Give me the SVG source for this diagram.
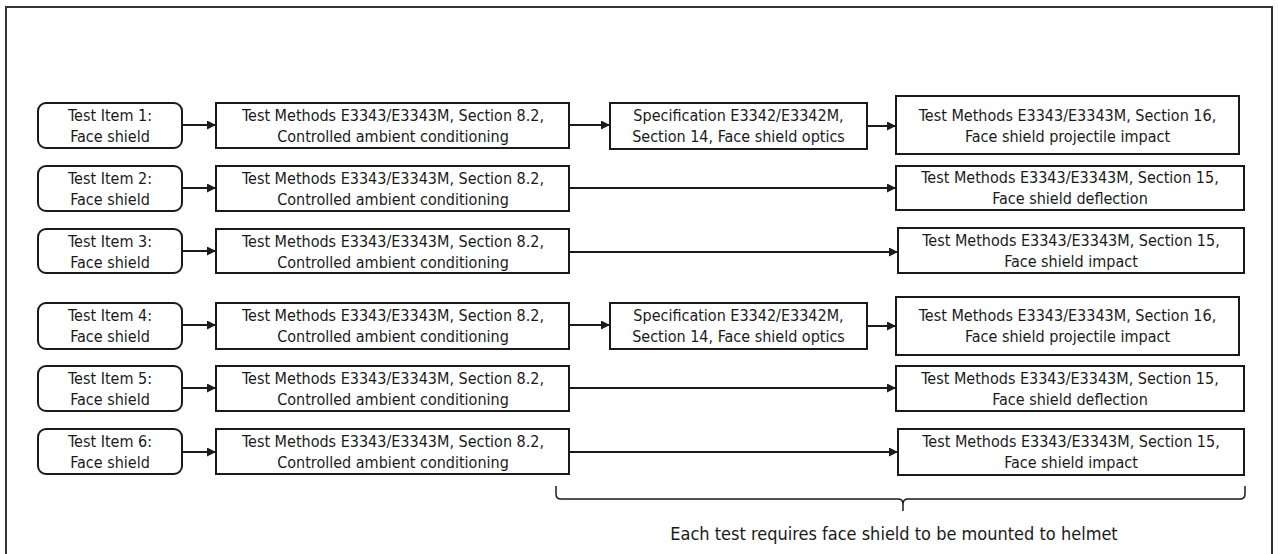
<svg xmlns="http://www.w3.org/2000/svg" width="1278" height="554" viewBox="0 0 1278 554">
<defs>
<style>
.box{fill:#fff;stroke:#1a1a1a;stroke-width:2}
.t{font-family:"DejaVu Sans Condensed","DejaVu Sans",sans-serif;font-size:16px;fill:#1a1a1a;text-anchor:middle}
.c{stroke:#1a1a1a;stroke-width:2;fill:none}
</style>
<marker id="ah" viewBox="0 0 10 10" refX="10" refY="5" markerWidth="10" markerHeight="9" markerUnits="userSpaceOnUse" orient="auto">
<path d="M0,0 L10,5 L0,10 Z" fill="#1a1a1a"/>
</marker>
</defs>
<rect x="0" y="0" width="1278" height="554" fill="#fff"/>
<path d="M6,560 V7 H1272 V560" fill="none" stroke="#333" stroke-width="2"/>

<g id="connectors">
<line class="c" x1="182" y1="125" x2="216" y2="125" marker-end="url(#ah)"/>
<line class="c" x1="569" y1="125" x2="610" y2="125" marker-end="url(#ah)"/>
<line class="c" x1="867" y1="126" x2="896" y2="126" marker-end="url(#ah)"/>
<line class="c" x1="182" y1="188" x2="216" y2="188" marker-end="url(#ah)"/>
<line class="c" x1="569" y1="188" x2="896" y2="188" marker-end="url(#ah)"/>
<line class="c" x1="182" y1="251" x2="216" y2="251" marker-end="url(#ah)"/>
<line class="c" x1="569" y1="252" x2="898" y2="252" marker-end="url(#ah)"/>
<line class="c" x1="182" y1="325" x2="216" y2="325" marker-end="url(#ah)"/>
<line class="c" x1="569" y1="325" x2="610" y2="325" marker-end="url(#ah)"/>
<line class="c" x1="867" y1="326" x2="896" y2="326" marker-end="url(#ah)"/>
<line class="c" x1="182" y1="388" x2="216" y2="388" marker-end="url(#ah)"/>
<line class="c" x1="569" y1="388" x2="896" y2="388" marker-end="url(#ah)"/>
<line class="c" x1="182" y1="452" x2="216" y2="452" marker-end="url(#ah)"/>
<line class="c" x1="569" y1="452" x2="898" y2="452" marker-end="url(#ah)"/>
</g>

<g id="item1"><rect class="box" x="38" y="103" width="144" height="45" rx="8"/><text class="t" x="110" y="121">Test Item 1:</text><text class="t" x="110" y="142">Face shield</text></g>
<g id="cond1"><rect class="box" x="216" y="103" width="353" height="45"/><text class="t" x="393" y="121">Test Methods E3343/E3343M, Section 8.2,</text><text class="t" x="393" y="142">Controlled ambient conditioning</text></g>
<g id="optics1"><rect class="box" x="610" y="103" width="257" height="46"/><text class="t" x="738.5" y="121">Specification E3342/E3342M,</text><text class="t" x="738.5" y="142">Section 14, Face shield optics</text></g>
<g id="proj1"><rect class="box" x="896" y="96" width="343" height="58"/><text class="t" x="1067.5" y="121">Test Methods E3343/E3343M, Section 16,</text><text class="t" x="1067.5" y="142">Face shield projectile impact</text></g>

<g id="item2"><rect class="box" x="38" y="166" width="144" height="45" rx="8"/><text class="t" x="110" y="184">Test Item 2:</text><text class="t" x="110" y="205">Face shield</text></g>
<g id="cond2"><rect class="box" x="216" y="166" width="353" height="45"/><text class="t" x="393" y="184">Test Methods E3343/E3343M, Section 8.2,</text><text class="t" x="393" y="205">Controlled ambient conditioning</text></g>
<g id="defl2"><rect class="box" x="896" y="166" width="348" height="44"/><text class="t" x="1070" y="183">Test Methods E3343/E3343M, Section 15,</text><text class="t" x="1070" y="204">Face shield deflection</text></g>

<g id="item3"><rect class="box" x="38" y="229" width="144" height="44" rx="8"/><text class="t" x="110" y="247">Test Item 3:</text><text class="t" x="110" y="268">Face shield</text></g>
<g id="cond3"><rect class="box" x="216" y="229" width="353" height="44"/><text class="t" x="393" y="247">Test Methods E3343/E3343M, Section 8.2,</text><text class="t" x="393" y="268">Controlled ambient conditioning</text></g>
<g id="impact3"><rect class="box" x="898" y="228" width="346" height="45"/><text class="t" x="1071" y="246">Test Methods E3343/E3343M, Section 15,</text><text class="t" x="1071" y="267">Face shield impact</text></g>

<g id="item4"><rect class="box" x="38" y="303" width="144" height="46" rx="8"/><text class="t" x="110" y="321">Test Item 4:</text><text class="t" x="110" y="342">Face shield</text></g>
<g id="cond4"><rect class="box" x="216" y="303" width="353" height="46"/><text class="t" x="393" y="321">Test Methods E3343/E3343M, Section 8.2,</text><text class="t" x="393" y="342">Controlled ambient conditioning</text></g>
<g id="optics4"><rect class="box" x="610" y="303" width="257" height="46"/><text class="t" x="738.5" y="321">Specification E3342/E3342M,</text><text class="t" x="738.5" y="342">Section 14, Face shield optics</text></g>
<g id="proj4"><rect class="box" x="896" y="297" width="343" height="58"/><text class="t" x="1067.5" y="321">Test Methods E3343/E3343M, Section 16,</text><text class="t" x="1067.5" y="342">Face shield projectile impact</text></g>

<g id="item5"><rect class="box" x="38" y="366" width="144" height="45" rx="8"/><text class="t" x="110" y="384">Test Item 5:</text><text class="t" x="110" y="405">Face shield</text></g>
<g id="cond5"><rect class="box" x="216" y="366" width="353" height="45"/><text class="t" x="393" y="384">Test Methods E3343/E3343M, Section 8.2,</text><text class="t" x="393" y="405">Controlled ambient conditioning</text></g>
<g id="defl5"><rect class="box" x="896" y="366" width="348" height="45"/><text class="t" x="1070" y="384">Test Methods E3343/E3343M, Section 15,</text><text class="t" x="1070" y="405">Face shield deflection</text></g>

<g id="item6"><rect class="box" x="38" y="429" width="144" height="45" rx="8"/><text class="t" x="110" y="447">Test Item 6:</text><text class="t" x="110" y="468">Face shield</text></g>
<g id="cond6"><rect class="box" x="216" y="429" width="353" height="45"/><text class="t" x="393" y="447">Test Methods E3343/E3343M, Section 8.2,</text><text class="t" x="393" y="468">Controlled ambient conditioning</text></g>
<g id="impact6"><rect class="box" x="898" y="429" width="346" height="46"/><text class="t" x="1071" y="447">Test Methods E3343/E3343M, Section 15,</text><text class="t" x="1071" y="468">Face shield impact</text></g>

<g id="bracket">
<path d="M556,486 V494 Q556,499 561,499 H898 Q903,499 903,504 V511 M903,504 Q903,499 908,499 H1240 Q1245,499 1245,494 V486" fill="none" stroke="#1a1a1a" stroke-width="1.5"/>
<text class="t" x="894" y="540" style="font-size:18px">Each test requires face shield to be mounted to helmet</text>
</g>
</svg>
